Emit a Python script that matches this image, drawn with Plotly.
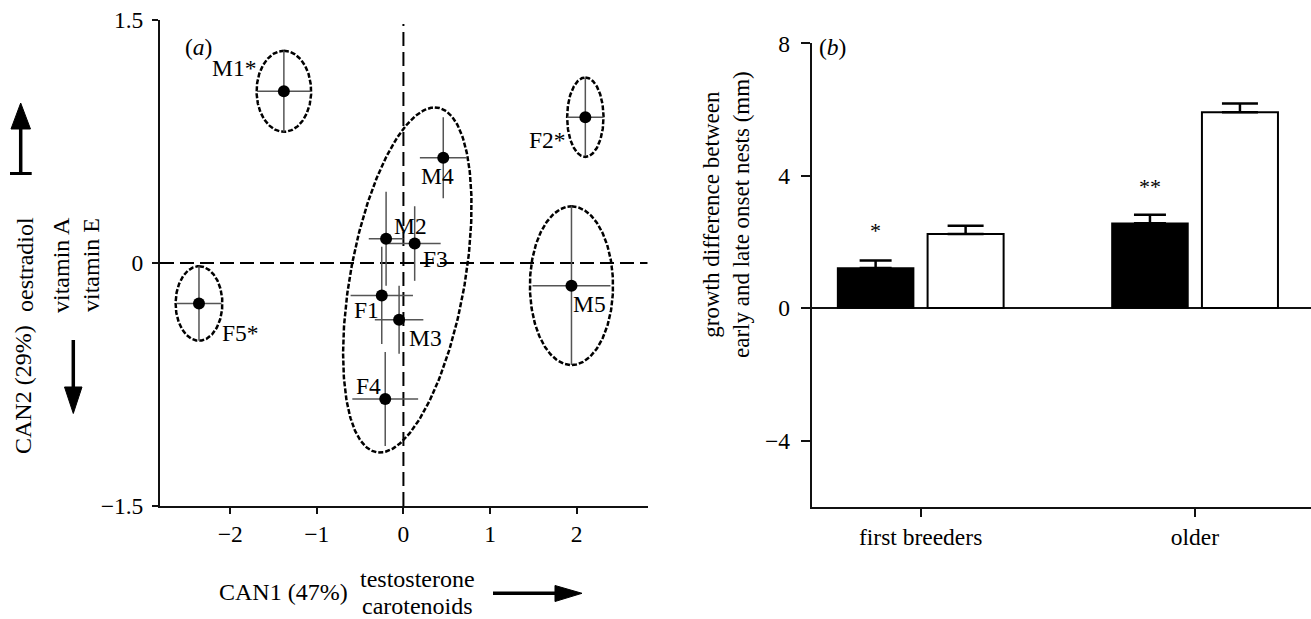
import numpy as np
import plotly.graph_objects as go

W, H = 1311, 619
FONT = "Liberation Serif, Times New Roman, serif"

# ---------------- Panel (a) data ----------------
labels = ["M1*", "F2*", "M4", "M2", "F3", "F1", "M3", "F4", "M5", "F5*"]
can1 = [-1.38, 2.10, 0.46, -0.20, 0.13, -0.25, -0.05, -0.21, 1.94, -2.36]
can2 = [1.06, 0.90, 0.65, 0.15, 0.12, -0.20, -0.35, -0.84, -0.14, -0.25]
can1_err = [0.31, 0.21, 0.27, 0.20, 0.30, 0.36, 0.28, 0.38, 0.45, 0.26]
can2_err = [0.25, 0.24, 0.25, 0.29, 0.23, 0.30, 0.21, 0.29, 0.49, 0.23]

# grouping ellipses: centre and two conjugate semi-diameters (data units)
ell_cx = [-1.38, 2.10, 1.94, -2.36, 0.045]
ell_cy = [1.06, 0.90, -0.14, -0.25, -0.105]
ell_ux = [0.0, 0.0, 0.0, 0.0, 0.317]
ell_uy = [0.25, 0.245, 0.49, 0.23, 1.065]
ell_vx = [0.315, 0.21, 0.48, 0.27, 0.67]
ell_vy = [0.0, 0.0, 0.0, 0.0, 0.0]

# ---------------- Panel (b) data ----------------
groups = ["first breeders", "older"]
filled_vals = [1.21, 2.56]
filled_se = [0.23, 0.26]
open_vals = [2.24, 5.92]
open_se = [0.25, 0.26]
sig_text = ["*", "**"]
sig_y = [2.34, 3.66]

# label offsets in pixels (style)
lab_dx = [-50, -38, -6, 24, 21, -15, 26, -17, 18, 42]
lab_dy = [23, -23, -18, 13, -15, -15, -18, 13, -18, -30]


def fx(px):
    return px / W


def fy(py):
    return 1 - py / H


fig = go.Figure()

# ellipses
t = np.linspace(0, 2 * np.pi, 300)
for cx, cy, ux, uy, vx, vy in zip(ell_cx, ell_cy, ell_ux, ell_uy, ell_vx, ell_vy):
    ex = cx + ux * np.cos(t) + vx * np.sin(t)
    ey = cy + uy * np.cos(t) + vy * np.sin(t)
    fig.add_trace(go.Scatter(x=ex, y=ey, mode="lines", xaxis="x", yaxis="y",
                             line=dict(color="black", width=2.5, dash="5px,2px"),
                             hoverinfo="skip", showlegend=False))

# points with error bars
fig.add_trace(go.Scatter(
    x=can1, y=can2, mode="markers", xaxis="x", yaxis="y",
    marker=dict(color="black", size=12),
    error_x=dict(type="data", array=can1_err, color="#555", thickness=1.5, width=0),
    error_y=dict(type="data", array=can2_err, color="#555", thickness=1.5, width=0),
    showlegend=False, text=labels))

# bars
fig.add_trace(go.Bar(
    x=groups, y=filled_vals, xaxis="x2", yaxis="y2", name="filled",
    marker=dict(color="black", line=dict(color="black", width=1.5)),
    error_y=dict(type="data", array=filled_se, arrayminus=[0, 0], symmetric=False,
                 color="black", thickness=2.5, width=16),
    showlegend=False))
fig.add_trace(go.Bar(
    x=groups, y=open_vals, xaxis="x2", yaxis="y2", name="open",
    marker=dict(color="white", line=dict(color="black", width=2)),
    error_y=dict(type="data", array=open_se, arrayminus=[0, 0], symmetric=False,
                 color="black", thickness=2.5, width=18),
    showlegend=False))

LAB = 23.5
ann = []
# point labels
for lab, x, y, dx, dy in zip(labels, can1, can2, lab_dx, lab_dy):
    ann.append(dict(x=x, y=y, xref="x", yref="y", text=lab, showarrow=False,
                    xshift=dx, yshift=dy, font=dict(family=FONT, size=LAB, color="black")))
# significance stars
for g, s, y in zip(groups, sig_text, sig_y):
    ann.append(dict(x=g, y=y, xref="x2", yref="y2", text=s, showarrow=False,
                    xshift=-45, font=dict(family=FONT, size=22, color="black")))

# panel letters
ann.append(dict(x=fx(183), y=fy(32), xref="paper", yref="paper", text="(<i>a</i>)",
                showarrow=False, font=dict(family=FONT, size=LAB, color="black")))
ann.append(dict(x=fx(833), y=fy(32), xref="paper", yref="paper", text="(<i>b</i>)",
                showarrow=False, font=dict(family=FONT, size=LAB, color="black")))

# axis titles
def txt(x, y, s, angle=0, size=24):
    ann.append(dict(x=fx(x), y=fy(y), xref="paper", yref="paper", text=s,
                    showarrow=False, textangle=angle, xanchor="center", yanchor="middle",
                    font=dict(family=FONT, size=size, color="black")))

txt(23, 390, "CAN2 (29%)", -90)
txt(25, 265, "oestradiol", -90)
txt(61, 265, "vitamin A", -90)
txt(91, 265, "vitamin E", -90)
txt(283, 592, "CAN1 (47%)")
txt(418, 579, "testosterone")
txt(418, 606, "carotenoids")
txt(727, 215, "growth difference between<br>early and late onset nests (mm)", -90, 23)

shapes = []
# dashed reference lines
shapes.append(dict(type="line", xref="x", yref="y", x0=0, x1=0, y0=-1.5, y1=1.475,
                   line=dict(color="black", width=2, dash="14px,6px"), layer="below"))
shapes.append(dict(type="line", xref="x", yref="y", x0=-2.81, x1=2.82, y0=0, y1=0,
                   line=dict(color="black", width=2, dash="14px,6px"), layer="below"))

# decorative arrows (paper coords)
def seg(x0, y0, x1, y1, w=3.5):
    shapes.append(dict(type="line", xref="paper", yref="paper",
                       x0=fx(x0), y0=fy(y0), x1=fx(x1), y1=fy(y1),
                       line=dict(color="black", width=w)))

def tri(pts):
    path = "M " + " L ".join(f"{fx(a):.5f},{fy(b):.5f}" for a, b in pts) + " Z"
    shapes.append(dict(type="path", xref="paper", yref="paper", path=path,
                       fillcolor="black", line=dict(color="black", width=1)))

# up arrow
seg(20.7, 173.5, 20.7, 125)
seg(10, 173.5, 31.7, 173.5, 3)
tri([(20.7, 103), (11, 129), (30.5, 129)])
# down arrow
seg(73.3, 340, 73.3, 392)
tri([(73.3, 413.5), (64.5, 387), (82, 387)])
# right arrow
seg(493, 593.3, 560, 593.3)
tri([(582, 593.3), (555, 585.5), (555, 601.5)])

axis_common = dict(showgrid=False, zeroline=False, showline=True, linecolor="#111",
                   linewidth=2, ticks="outside", tickcolor="#111", tickwidth=2,
                   automargin=False,
                   tickfont=dict(family=FONT, size=LAB, color="black"))

fig.update_layout(
    width=W, height=H, margin=dict(l=0, r=0, t=0, b=0),
    paper_bgcolor="white", plot_bgcolor="white",
    showlegend=False, barmode="group", bargap=0.344, bargroupgap=0.155,
    annotations=ann, shapes=shapes,
    xaxis=dict(domain=[fx(160), fx(647.7)], range=[-2.81, 2.82], anchor="y",
               tickvals=[-2, -1, 0, 1, 2], ticktext=["\u22122", "\u22121", "0", "1", "2"],
               ticklen=6, **axis_common),
    yaxis=dict(domain=[fy(506), fy(20)], range=[-1.5, 1.5], anchor="x",
               tickvals=[-1.5, 0, 1.5], ticktext=["\u22121.5", "0", "1.5"],
               ticklen=6, ticklabelstandoff=4, **axis_common),
    xaxis2=dict(domain=[fx(811.7), 1.0], range=[-0.397, 1.423], anchor="y2",
                type="category", ticklen=8, **axis_common),
    yaxis2=dict(domain=[fy(506.7), fy(43.3)], range=[-6, 8], anchor="x2",
                tickvals=[-4, 0, 4, 8], ticktext=["\u22124", "0", "4", "8"],
                ticklen=9, ticklabelstandoff=6,
                **{**axis_common, "zeroline": True, "zerolinecolor": "#111", "zerolinewidth": 2}),
)

fig.write_html("out.html", config={"displayModeBar": False},
               post_script="document.body.style.margin='0';document.body.style.overflow='hidden';")
